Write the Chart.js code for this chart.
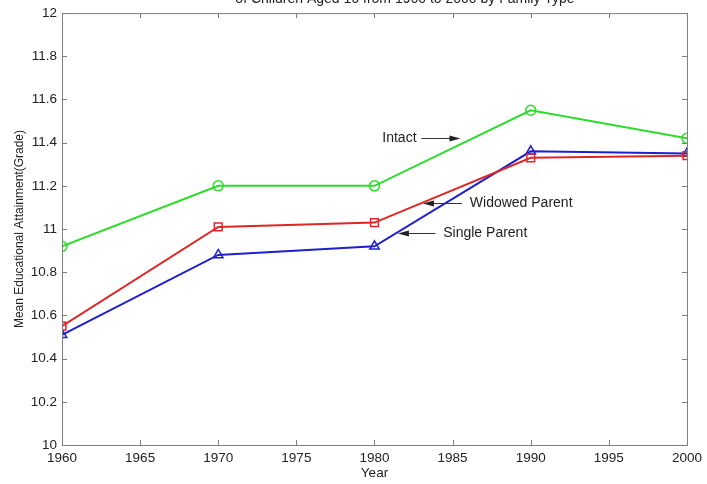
<!DOCTYPE html>
<html>
<head>
<meta charset="utf-8">
<script src="https://cdn.jsdelivr.net/npm/chart.js@4.4.1/dist/chart.umd.min.js"></script>
<style>
  html, body { margin: 0; padding: 0; background: #fff; }
  #wrap { width: 707px; height: 484px; }
</style>
</head>
<body>
<div id="wrap"><canvas id="eduChart" width="707" height="484"></canvas></div>
<script>
// values
const years = [1960, 1970, 1980, 1990, 2000];
const intact = [10.92, 11.20, 11.20, 11.55, 11.42];
const widowed = [10.55, 11.01, 11.03, 11.33, 11.34];
const single = [10.51, 10.88, 10.92, 11.36, 11.35];
const xTicks = [1960, 1965, 1970, 1975, 1980, 1985, 1990, 1995, 2000];
const yTicks = [10, 10.2, 10.4, 10.6, 10.8, 11, 11.2, 11.4, 11.6, 11.8, 12];

// text labels with arrows: [text, textX, textY, arrowFromX, arrowToX, arrowY]
const notes = [
    ['Intact', 1980.5, 11.42, 1983.0, 1985.5, 11.42],
    ['Widowed Parent', 1986.1, 11.12, 1985.6, 1983.1, 11.12],
    ['Single Parent', 1984.4, 10.98, 1983.9, 1981.5, 10.98]
];

const FONT = "'Liberation Sans', Arial, sans-serif";

function toPoints(ys) {
    return years.map((x, i) => ({ x: x, y: ys[i] }));
}

const boxPlugin = {
    id: 'boxPlugin',
    afterDraw(chart) {
        const ctx = chart.ctx;
        const a = chart.chartArea;
        const xs = chart.scales.x, ys = chart.scales.y;
        ctx.save();
        ctx.strokeStyle = '#7f7f7f';
        ctx.lineWidth = 1;
        ctx.strokeRect(a.left + 0.5, a.top + 0.5, a.right - a.left, a.bottom - a.top);
        ctx.beginPath();
        const len = 5;
        xTicks.forEach(t => {
            const px = Math.round(xs.getPixelForValue(t)) + 0.5;
            ctx.moveTo(px, a.bottom); ctx.lineTo(px, a.bottom - len);
            ctx.moveTo(px, a.top); ctx.lineTo(px, a.top + len);
        });
        yTicks.forEach(t => {
            const py = Math.round(ys.getPixelForValue(t)) + 0.5;
            ctx.moveTo(a.left, py); ctx.lineTo(a.left + len, py);
            ctx.moveTo(a.right, py); ctx.lineTo(a.right - len, py);
        });
        ctx.stroke();

        // annotations
        ctx.font = '14px ' + FONT;
        ctx.fillStyle = '#222';
        ctx.strokeStyle = '#333';
        ctx.textBaseline = 'middle';
        notes.forEach(n => {
            const tx = xs.getPixelForValue(n[1]);
            const ty = ys.getPixelForValue(n[2]);
            ctx.fillText(n[0], tx, ty);
            const x0 = xs.getPixelForValue(n[3]);
            const x1 = xs.getPixelForValue(n[4]);
            const ay = Math.round(ys.getPixelForValue(n[5])) + 0.5;
            const dir = x1 > x0 ? 1 : -1;
            ctx.beginPath();
            ctx.moveTo(x0, ay); ctx.lineTo(x1 - dir * 8, ay);
            ctx.stroke();
            ctx.beginPath();
            ctx.moveTo(x1, ay);
            ctx.lineTo(x1 - dir * 11, ay - 3);
            ctx.lineTo(x1 - dir * 11, ay + 3);
            ctx.closePath();
            ctx.fill();
        });

        // title, mostly cut off at the top of the picture
        ctx.textBaseline = 'alphabetic';
        ctx.textAlign = 'center';
        ctx.font = '14px ' + FONT;
        ctx.fillStyle = '#222';
        ctx.fillText('of Children Aged 16 from 1960 to 2000 by Family Type', 405, 3);
        ctx.restore();
    }
};

document.addEventListener('DOMContentLoaded', () => {
    const ctx = document.getElementById('eduChart').getContext('2d');
    new Chart(ctx, {
        type: 'scatter',
        data: {
            datasets: [{
                label: 'Intact',
                data: toPoints(intact),
                showLine: true,
                borderColor: '#2bdc2b',
                backgroundColor: 'rgba(0,0,0,0)',
                borderWidth: 2,
                pointStyle: 'circle',
                pointRadius: 5,
                pointBorderWidth: 1.5,
                pointBorderColor: '#2bdc2b'
            }, {
                label: 'Widowed Parent',
                data: toPoints(widowed),
                showLine: true,
                borderColor: '#e02525',
                backgroundColor: 'rgba(0,0,0,0)',
                borderWidth: 2,
                pointStyle: 'rect',
                pointRadius: 5.5,
                pointBorderWidth: 1.5,
                pointBorderColor: '#e02525'
            }, {
                label: 'Single Parent',
                data: toPoints(single),
                showLine: true,
                borderColor: '#1f1fd0',
                backgroundColor: 'rgba(0,0,0,0)',
                borderWidth: 2,
                pointStyle: 'triangle',
                pointRadius: 5.5,
                pointBorderWidth: 1.5,
                pointBorderColor: '#1f1fd0'
            }]
        },
        options: {
            responsive: false,
            animation: false,
            layout: { padding: { top: 12, right: 20, left: 12, bottom: 0 } },
            plugins: {
                legend: { display: false },
                tooltip: { enabled: false }
            },
            scales: {
                x: {
                    type: 'linear',
                    min: 1960,
                    max: 2000,
                    afterBuildTicks: s => { s.ticks = xTicks.map(v => ({ value: v })); },
                    afterFit: s => { s.height = 39; },
                    grid: { display: false, drawTicks: false },
                    border: { display: false },
                    ticks: {
                        color: '#222',
                        padding: 5,
                        maxRotation: 0,
                        font: { family: FONT, size: 13.5 },
                        callback: v => String(v)
                    },
                    title: {
                        display: true,
                        text: 'Year',
                        color: '#222',
                        padding: { top: 0, bottom: 3 },
                        font: { family: FONT, size: 13.5 }
                    }
                },
                y: {
                    min: 10,
                    max: 12,
                    afterBuildTicks: s => { s.ticks = yTicks.map(v => ({ value: v })); },
                    afterFit: s => { s.width = 50; },
                    grid: { display: false, drawTicks: false },
                    border: { display: false },
                    ticks: {
                        color: '#222',
                        padding: 5,
                        font: { family: FONT, size: 13.5 },
                        callback: v => String(Number(v.toFixed(1)))
                    },
                    title: {
                        display: true,
                        text: 'Mean Educational Attainment(Grade)',
                        color: '#222',
                        padding: 0,
                        font: { family: FONT, size: 12 }
                    }
                }
            }
        },
        plugins: [boxPlugin]
    });
});
</script>
</body>
</html>
